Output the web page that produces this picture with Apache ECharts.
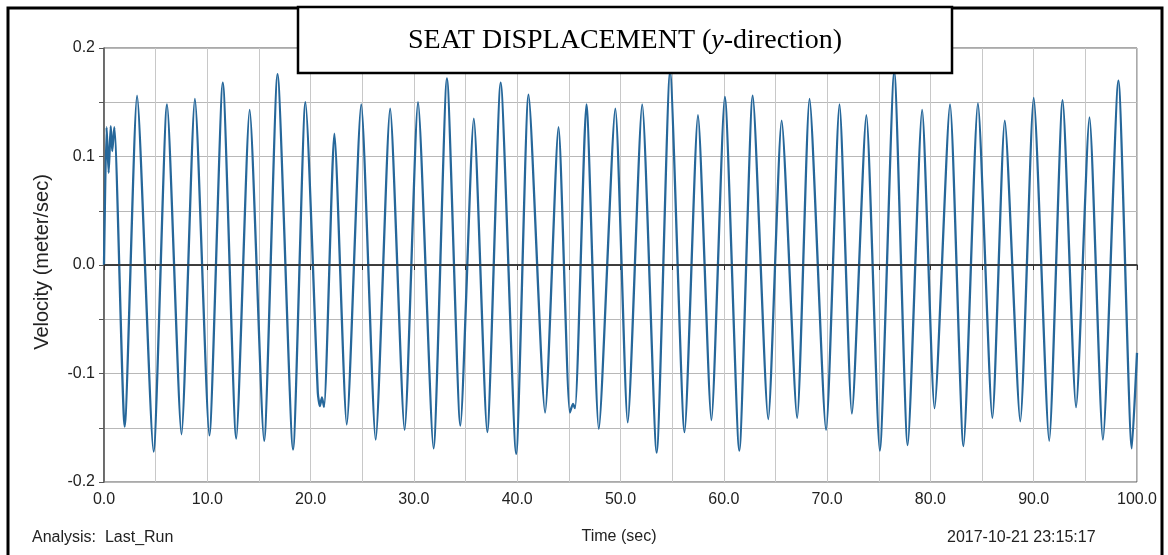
<!DOCTYPE html>
<html>
<head>
<meta charset="utf-8">
<script src="https://cdn.jsdelivr.net/npm/echarts@6/dist/echarts.min.js"></script>
<style>
html,body{margin:0;padding:0;background:#fff;}
#chart{width:1168px;height:555px;}
</style>
</head>
<body>
<div id="chart"></div>
<script>
// Time (sec) of read points
const times = [0, 0.25, 0.45, 0.65, 0.8, 1.0, 2.0, 3.2, 4.8, 6.1, 7.5, 8.8, 10.2, 11.5, 12.8, 14.1, 15.5, 16.8, 18.3, 19.5,
  20.7, 20.9, 21.1, 21.3, 22.3, 23.5, 24.9, 26.3, 27.7, 29.1, 30.4, 31.9, 33.2, 34.5, 35.8, 37.1, 38.4, 39.9, 41.1, 42.7, 44.0,
  45.1, 45.4, 45.6, 46.7, 47.9, 49.5, 50.7, 52.1, 53.5, 54.8, 56.2, 57.5, 58.8, 60.1, 61.5, 62.8, 64.3, 65.6, 67.1, 68.3,
  69.9, 71.2, 72.4, 73.8, 75.1, 76.5, 77.8, 79.2, 80.4, 81.9, 83.2, 84.6, 86.0, 87.2, 88.7, 90.0, 91.5, 92.8, 94.1, 95.4,
  96.7, 98.2, 99.5, 100];
// Velocity (meter/sec)
const velocity = [0.0, 0.127, 0.085, 0.128, 0.105, 0.127, -0.149, 0.156, -0.172, 0.148, -0.156, 0.153, -0.157, 0.168, -0.160, 0.143, -0.162, 0.176, -0.170, 0.150,
  -0.118, -0.130, -0.122, -0.131, 0.121, -0.147, 0.148, -0.161, 0.144, -0.152, 0.150, -0.169, 0.172, -0.148, 0.135, -0.154, 0.168, -0.174, 0.157, -0.136, 0.127,
  -0.136, -0.128, -0.132, 0.148, -0.151, 0.144, -0.145, 0.148, -0.173, 0.178, -0.154, 0.138, -0.143, 0.155, -0.171, 0.156, -0.142, 0.133, -0.141, 0.153,
  -0.152, 0.148, -0.137, 0.138, -0.171, 0.178, -0.166, 0.143, -0.132, 0.148, -0.167, 0.149, -0.141, 0.133, -0.144, 0.154, -0.162, 0.152, -0.131, 0.136,
  -0.161, 0.170, -0.169, -0.081];

const titleText = 'SEAT DISPLACEMENT';
const yName = 'Velocity (meter/sec)';
const xName = 'Time (sec)';
const analysisText = 'Analysis:  Last_Run';
const stampText = '2017-10-21 23:15:17';

const data = times.map((t, i) => [t, velocity[i]]);
const font = '"Liberation Sans", Arial, sans-serif';

const chart = echarts.init(document.getElementById('chart'), null, {renderer: 'canvas'});
chart.setOption({
  animation: false,
  backgroundColor: '#fff',
  grid: {left: 104, right: 31, top: 48, bottom: 73, show: true, borderColor: '#555', borderWidth: 1, backgroundColor: 'transparent'},
  xAxis: {
    type: 'value', min: 0, max: 100, interval: 5,
    axisLine: {show: true, lineStyle: {color: '#333', width: 1.5}},
    axisTick: {show: true, length: 5, lineStyle: {color: '#333'}},
    axisLabel: {fontSize: 16, fontFamily: font, color: '#222', margin: 10,
      formatter: v => (Math.round(v) % 10 === 0 ? v.toFixed(1) : '')},
    splitLine: {show: true, lineStyle: {color: '#c8c8c8', width: 1}}
  },
  yAxis: {
    type: 'value', min: -0.2, max: 0.2, interval: 0.05,
    axisLine: {show: true, lineStyle: {color: '#555', width: 1.5}},
    axisTick: {show: true, length: 5, lineStyle: {color: '#555'}},
    axisLabel: {fontSize: 16, fontFamily: font, color: '#222', margin: 9,
      formatter: v => (Math.round(v * 100) % 10 === 0 ? (Math.round(v * 10) / 10).toFixed(1) : '')},
    splitLine: {show: true, lineStyle: {color: '#b8b8b8', width: 1}}
  },
  series: [{
    type: 'line',
    data: data,
    showSymbol: false,
    smooth: 0.2,
    lineStyle: {color: '#26679a', width: 2.3},
    markLine: {
      silent: true, symbol: 'none', label: {show: false},
      lineStyle: {color: '#333', width: 1.5, type: 'solid'},
      data: [{yAxis: 0}]
    },
    z: 3
  }],
  graphic: [
    {type: 'rect', z: 100, shape: {x: 8, y: 8, width: 1154, height: 570},
      style: {fill: 'none', stroke: '#000', lineWidth: 3}},
    {type: 'rect', z: 101, shape: {x: 298, y: 7, width: 654, height: 66},
      style: {fill: '#fff', stroke: '#000', lineWidth: 2.5}},
    {type: 'text', z: 102, x: 625, y: 41,
      style: {
        text: '{n|' + titleText + ' (}{i|y}{n|-direction)}',
        align: 'center', verticalAlign: 'middle',
        rich: {
          n: {fontFamily: '"Liberation Serif", "Times New Roman", serif', fontSize: 28, fill: '#000'},
          i: {fontFamily: '"Liberation Serif", "Times New Roman", serif', fontSize: 28, fontStyle: 'italic', fill: '#000'}
        }
      }},
    {type: 'text', z: 102, x: 42, y: 262, rotation: Math.PI / 2,
      style: {text: yName, fontFamily: font, fontSize: 20, fill: '#222', align: 'center', verticalAlign: 'middle'}},
    {type: 'text', z: 102, x: 32, y: 538,
      style: {text: analysisText, fontFamily: font, fontSize: 16, fill: '#222', align: 'left', verticalAlign: 'middle'}},
    {type: 'text', z: 102, x: 619, y: 537,
      style: {text: xName, fontFamily: font, fontSize: 16, fill: '#222', align: 'center', verticalAlign: 'middle'}},
    {type: 'text', z: 102, x: 947, y: 538,
      style: {text: stampText, fontFamily: font, fontSize: 16, fill: '#222', align: 'left', verticalAlign: 'middle'}}
  ]
});
</script>
</body>
</html>
